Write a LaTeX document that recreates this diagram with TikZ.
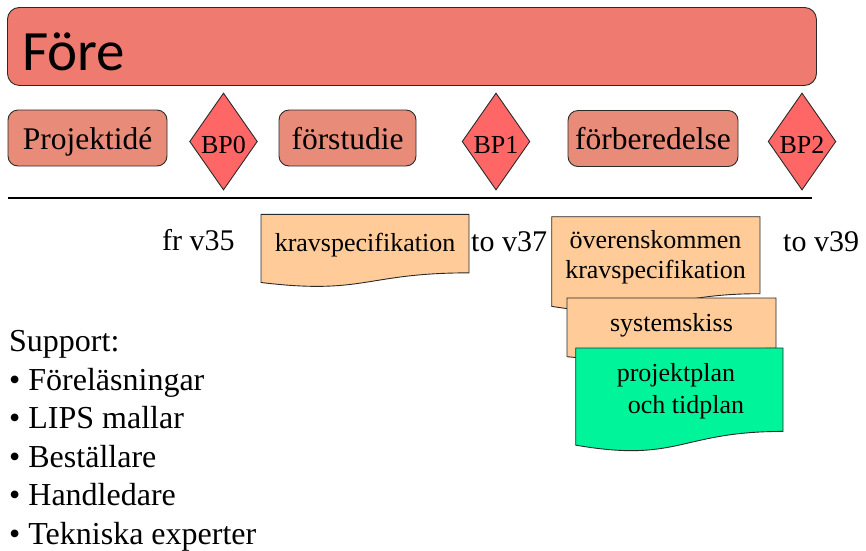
\documentclass[tikz,border=0pt]{standalone}
\usepackage{fontspec}
\setmainfont{Liberation Serif}
\newfontfamily\headfont{Carlito}
\usetikzlibrary{shapes.geometric}

\definecolor{bannerfill}{HTML}{EF7A6F}
\definecolor{phasefill}{HTML}{E98B79}
\definecolor{gatefill}{HTML}{FF6666}
\definecolor{docfill}{HTML}{FFCC99}
\definecolor{planfill}{HTML}{00F59B}
\definecolor{edgecol}{HTML}{2A2A2A}

% wavy-bottom document: left, top, right, full height, fill colour
\newcommand{\docshape}[5]{%
  \draw[docedge, fill=#5]
    (#1,#2) -- (#3,#2) -- (#3,{#2+0.802*#4})
    .. controls ({(#1+#3)/2},{#2+0.802*#4}) and ({(#1+#3)/2},{#2+1.107*#4})
    .. (#1,{#2+0.934*#4}) -- cycle;}

\tikzset{
  banner/.style={draw=edgecol, line width=0.9pt, fill=bannerfill,
    rounded corners=12pt, anchor=north west, inner sep=0pt},
  phasebox/.style={draw=edgecol, line width=0.9pt, fill=phasefill,
    rounded corners=10pt, minimum height=56pt, inner sep=0pt,
    text height=26pt, text depth=4pt, font=\fontsize{31.5pt}{36pt}\selectfont},
  gate/.style={diamond, draw=edgecol, line width=0.9pt, fill=gatefill,
    minimum width=65pt, minimum height=97pt, inner sep=0pt,
    text height=23pt, text depth=0pt, font=\fontsize{26pt}{30pt}\selectfont},
  docedge/.style={draw=edgecol, line width=0.9pt},
  doctext/.style={anchor=base, inner sep=0pt, font=\fontsize{26pt}{30pt}\selectfont},
  weektext/.style={anchor=base west, inner sep=0pt, font=\fontsize{30pt}{36pt}\selectfont},
  listtext/.style={anchor=base west, inner sep=0pt, font=\fontsize{32pt}{36pt}\selectfont},
}

\begin{document}
\begin{tikzpicture}[x=1pt, y=-1pt]
\useasboundingbox (0,0) rectangle (866,550);

% title banner
\node[banner, minimum width=809pt, minimum height=78pt] (fore) at (7,7) {};
\node[anchor=base west, inner sep=0pt, font=\headfont\fontsize{57pt}{60pt}\selectfont]
  (foretitle) at (22,70) {Före};

% phases and decision points
\node[phasebox, minimum width=159pt] (idea) at (87.5,138) {Projektidé};
\node[gate] (bp0) at (223.5,141.5) {BP0};
\node[phasebox, minimum width=137pt] (pre) at (347.5,138) {förstudie};
\node[gate] (bp1) at (496,141.5) {BP1};
\node[phasebox, minimum width=170pt] (prep) at (653,138.5) {förberedelse};
\node[gate] (bp2) at (802,141.5) {BP2};

% time line
\coordinate (tl0) at (8,198);
\coordinate (tl1) at (812,198);
\draw[line width=2.6pt] (tl0) -- (tl1);

% week labels
\node[weektext] (w35) at (162,250) {fr v35};
\node[weektext] (w37) at (471,251) {to v37};
\node[weektext] (w39) at (783,251) {to v39};

% deliverables
\docshape{261}{214.3}{469}{73}{docfill}
\node[doctext] (krav) at (365,251.5) {kravspecifikation};

\docshape{551.7}{216.7}{760}{96}{docfill}
\node[doctext] (agreed1) at (655.5,248) {överenskommen};
\node[doctext] (agreed2) at (655.5,278) {kravspecifikation};

\docshape{567}{298}{776}{62.8}{docfill}
\node[doctext] (sketch) at (671.5,331.5) {systemskiss};

\docshape{575.7}{348}{783}{104}{planfill}
\node[doctext] (plan1) at (676,381.5) {projektplan};
\node[doctext] (plan2) at (686,413) {och tidplan};

% support list
\node[listtext] (sup0) at (9,351) {Support:};
\node[listtext] (sup1) at (9,390) {\textbullet\ Föreläsningar};
\node[listtext] (sup2) at (9,428) {\textbullet\ LIPS mallar};
\node[listtext] (sup3) at (9,467) {\textbullet\ Beställare};
\node[listtext] (sup4) at (9,505) {\textbullet\ Handledare};
\node[listtext] (sup5) at (9,544) {\textbullet\ Tekniska experter};
\end{tikzpicture}
\end{document}
